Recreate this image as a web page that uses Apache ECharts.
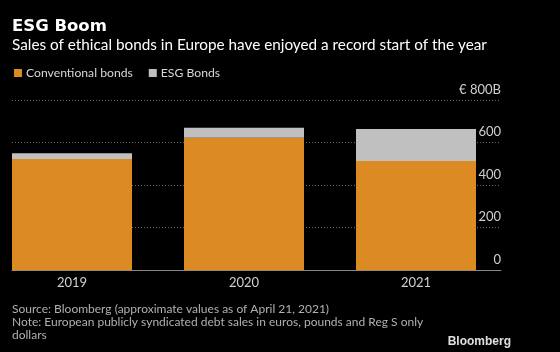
<!DOCTYPE html>
<html>
<head>
<meta charset="utf-8">
<script src="https://cdn.jsdelivr.net/npm/echarts@6/dist/echarts.min.js"></script>
<style>
html,body{margin:0;padding:0;background:#000;}
#chart{width:560px;height:352px;}
</style>
</head>
<body>
<div id="chart"></div>
<script>
var categories = ['2019', '2020', '2021'];
var conventional = [523, 623, 513];
var esg = [27, 47, 151];
var yTicks = [0, 200, 400, 600, 800];

var FONT = 'Lato';
var chart = echarts.init(document.getElementById('chart'));
chart.setOption({
  backgroundColor: '#000',
  animation: false,
  textStyle: { fontFamily: FONT },
  title: [
    { text: 'ESG Boom', left: 7, top: 13, textStyle: { color: '#fff', fontSize: 16.5, fontWeight: 'bold', fontFamily: 'DejaVu Sans' } },
    { text: 'Sales of ethical bonds in Europe have enjoyed a record start of the year', left: 7, top: 33, textStyle: { color: '#fff', fontSize: 15.3, fontWeight: 'normal', fontFamily: FONT } },
    { text: 'Source: Bloomberg (approximate values as of April 21, 2021)\nNote: European publicly syndicated debt sales in euros, pounds and Reg S only\ndollars', left: 7, top: 298, textStyle: { color: '#b0b0b0', fontSize: 12, fontWeight: 'normal', lineHeight: 13, fontFamily: FONT } },
    { text: 'Bloomberg', right: 44, top: 331, textStyle: { color: '#e0e0e0', fontSize: 12, fontWeight: 'bold', fontFamily: 'Liberation Sans' } }
  ],
  legend: {
    left: 9, top: 62,
    itemWidth: 8, itemHeight: 8, itemGap: 16,
    icon: 'rect',
    textStyle: { color: '#d8d8d8', fontSize: 12.2, fontFamily: FONT, padding: [0, 0, 0, -1] },
    data: ['Conventional bonds', 'ESG Bonds']
  },
  grid: [
    { left: 72, right: 144, top: 100, bottom: 81.7 },
    { left: 12, right: 59, top: 100, bottom: 81.7 }
  ],
  xAxis: [
    { type: 'category', gridIndex: 0, data: categories, boundaryGap: false,
      axisLine: { show: false }, axisTick: { show: false },
      axisLabel: { color: '#d0d0d0', fontSize: 13, margin: 6, fontFamily: FONT } },
    { type: 'category', gridIndex: 1, data: categories,
      axisLine: { show: true, lineStyle: { color: '#888', width: 1 } },
      axisTick: { show: false }, axisLabel: { show: false } }
  ],
  yAxis: [
    { type: 'value', gridIndex: 0, min: 0, max: 800, interval: 200, show: false, splitLine: { show: false } },
    { type: 'value', gridIndex: 1, min: 0, max: 800, interval: 200, position: 'right',
      axisLine: { show: false }, axisTick: { show: false },
      splitLine: { show: true, lineStyle: { color: '#666', type: [1, 2], width: 1 } },
      axisLabel: { inside: true, margin: 0, color: '#d0d0d0', fontSize: 13, verticalAlign: 'bottom', padding: [0, 0, 4, 0], fontFamily: FONT,
        formatter: function (v) { return v === 800 ? '€ 800B' : String(v); } } }
  ],
  series: [
    { name: 'Conventional bonds', type: 'bar', stack: 'total', xAxisIndex: 0, yAxisIndex: 0, barWidth: 120, clip: false,
      itemStyle: { color: '#dc8a24' }, data: conventional, z: 3 },
    { name: 'ESG Bonds', type: 'bar', stack: 'total', xAxisIndex: 0, yAxisIndex: 0, barWidth: 120, clip: false,
      itemStyle: { color: '#c0c0c0' }, data: esg, z: 3 }
  ]
});
</script>
</body>
</html>
